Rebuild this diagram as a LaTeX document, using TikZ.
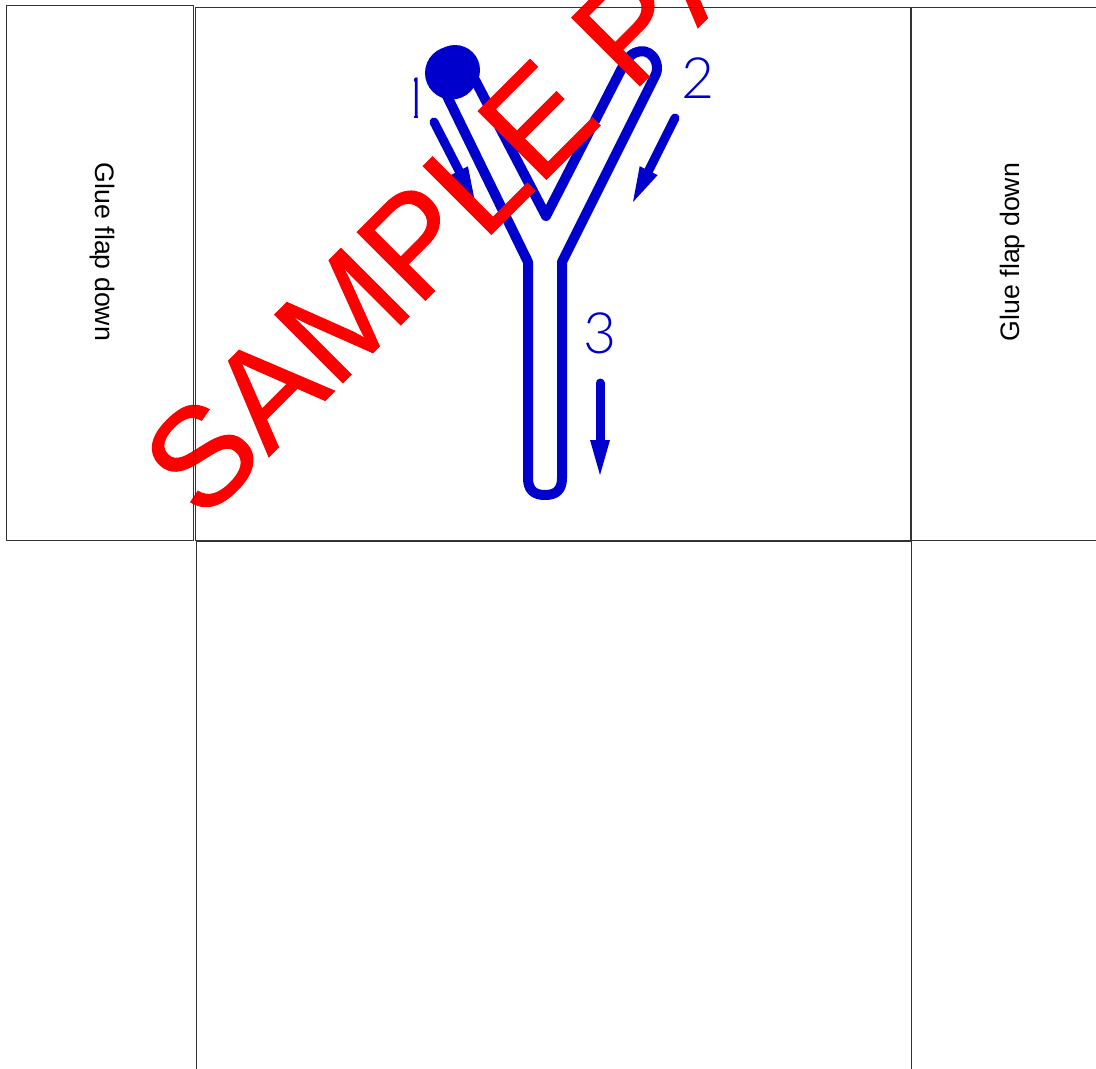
\documentclass[tikz,border=0pt]{standalone}
\usepackage{fontspec}
\newfontfamily\flapfont{Liberation Sans}
\newfontfamily\markfont[Kerning=Off, FakeBold=0.8]{Liberation Sans}
\newfontfamily\thinfont{Lato Light}
\usepackage{xcolor}
\usetikzlibrary{arrows.meta}
\definecolor{bendblue}{HTML}{0000CC}

\begin{document}
\begin{tikzpicture}[
  x=1pt, y=-1pt,
  panel/.style={draw=black!80, line width=0.9pt},
  fold/.style={draw=bendblue, line width=10pt, line join=round, line cap=round},
  flow/.style={draw=bendblue, line width=9pt, line cap=round, -{Triangle[length=35pt, width=20pt, line width=0pt]}},
  step num/.style={text=bendblue, font=\thinfont\fontsize{57pt}{57pt}\selectfont, inner sep=0pt},
  flap/.style={font=\flapfont\fontsize{26.7pt}{30pt}\selectfont, inner sep=0pt},
  mark text/.style={text=red, font=\markfont\fontsize{140pt}{140pt}\selectfont, inner sep=0pt, anchor=base west, rotate=45},
]
  \useasboundingbox (0,0) rectangle (1096,1069);

  % the folded strip
  \fill[bendblue] (451.5,73) circle (26.5pt);
  \fill[bendblue] (455,70) circle (25pt);
  \draw[fold] (463,57) -- (546,216) -- (623,66)
    .. controls (631,48) and (650,46) .. (656,62)
    .. controls (658,68) and (657,72) .. (655,76)
    -- (562,262) -- (562,478)
    .. controls (562,490) and (556,495) .. (545,495)
    .. controls (534,495) and (528,490) .. (528,478)
    -- (528,262) -- (447,96);

  % arrows and step numbers
  \coordinate (start1) at (434,122);
  \coordinate (end1) at (475,202);
  \coordinate (start2) at (675,118);
  \coordinate (end2) at (633,202);
  \coordinate (start3) at (600,383);
  \coordinate (end3) at (600,475);
  \draw[flow] (start1) -- (end1);
  \draw[flow] (start2) -- (end2);
  \draw[flow] (start3) -- (end3);
  \begin{scope}
    \clip (414.6,77) rectangle (417.8,120);
    \node[step num] (num1) at (415,98) {1};
  \end{scope}
  \node[step num] (num2) at (698.5,78) {2};
  \node[step num] (num3) at (600,333) {3};

  \node[mark text] (sample) at (202.5,523) {SAMPLE PAGE};

  % the panels and their flaps
  \draw[panel] (6.5,5.5) rectangle (193.5,540);
  \draw[panel] (195.5,7.5) rectangle (910.5,540.5);
  \draw[panel] (911.5,7.5) rectangle (1110,540);
  \draw[panel] (196.5,541) rectangle (911.5,1085);
  \node[flap, rotate=-90] (flapleft) at (102,252) {Glue flap down};
  \node[flap, rotate=90] (flapright) at (1013,252) {Glue flap down};
\end{tikzpicture}
\end{document}
